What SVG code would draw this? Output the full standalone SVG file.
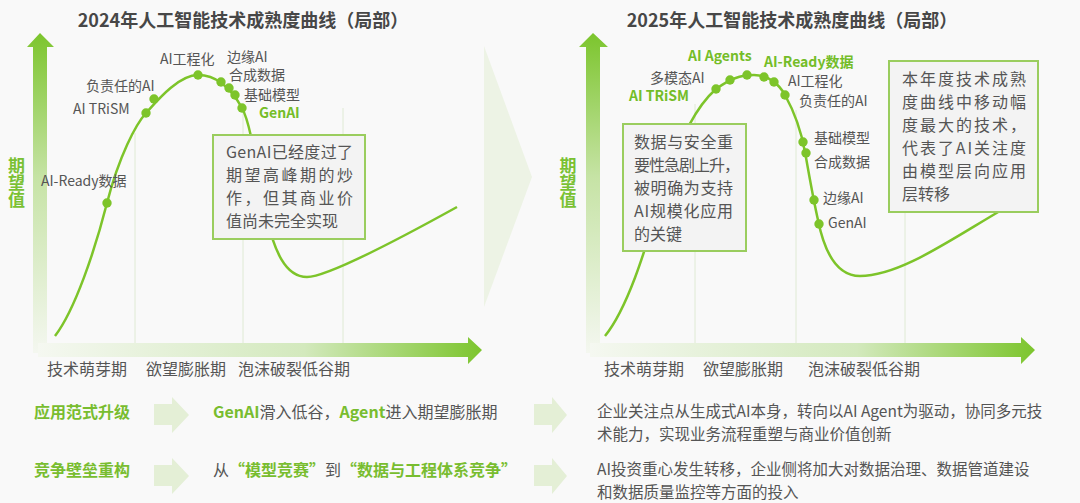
<svg xmlns="http://www.w3.org/2000/svg" width="1080" height="503" viewBox="0 0 1080 503">
<defs>
<linearGradient id="gy" x1="0" y1="0" x2="0" y2="1">
<stop offset="0" stop-color="#7cc52d"/>
<stop offset="0.45" stop-color="#c6e3a5"/>
<stop offset="1" stop-color="#f4f7f0"/>
</linearGradient>
<linearGradient id="gx" x1="0" y1="0" x2="1" y2="0">
<stop offset="0" stop-color="#f5f8f1"/>
<stop offset="0.6" stop-color="#d3e9bd"/>
<stop offset="1" stop-color="#7cc52d"/>
</linearGradient>
<style>
text{font-family:"Noto Sans CJK SC","Noto Sans",sans-serif;fill:#555555;}
.title{font-size:18px;font-weight:bold;fill:#474747;text-anchor:middle;}
.yl{font-size:17px;font-weight:bold;fill:#7ac133;writing-mode:vertical-rl;}
.lab{font-size:14px;}
.glab{font-size:14px;font-weight:bold;fill:#74bd28;}
.ax{font-size:16px;}
.box{fill:#f3f3f3;stroke:#9acd5e;stroke-width:2;}
.bt{font-size:16px;fill:#555555;}
.curve{fill:none;stroke:#7dc42a;stroke-width:2.5;}
.dot{fill:#7dc42a;}
.grid{stroke:#dfead4;stroke-width:1;}
.g{fill:#78bd2f;font-weight:bold;}
.rowh{font-size:16px;font-weight:bold;fill:#78bd2f;}
.rt{font-size:15.5px;}
.barr{fill:#e4efd6;}
</style>
</defs>
<rect x="0" y="0" width="1080" height="503" fill="#f9f9f9"/>

<!-- center chevron -->
<polygon points="484,46 532,177 484,307" fill="#edf3e5"/>

<g id="chart-2024">
<text class="title" x="243" y="27">2024年人工智能技术成熟度曲线（局部）</text>
<g id="axes-2024">
<polygon points="33,47 27,47 40,33 54,47 47,47 47,353 33,353" fill="url(#gy)"/>
<polygon points="38,343 468,343 468,337 482,350 468,364 468,357 38,357" fill="url(#gx)"/>
<text class="yl" x="16.5" y="157">期望值</text>
<line class="grid" x1="135" y1="133" x2="135" y2="343"/>
<line class="grid" x1="243" y1="110" x2="243" y2="343"/>
<line class="grid" x1="343" y1="108" x2="343" y2="343"/>
<text class="ax" x="47" y="375">技术萌芽期</text>
<text class="ax" x="146" y="375">欲望膨胀期</text>
<text class="ax" x="238" y="375">泡沫破裂低谷期</text>
</g>
<path class="curve" d="M55,336 C75,310 95,250 107,203 C119,156 136,124 146,113 C156,102 178,75 198,75 C218,75 232,90 242,108 C252,126 258,180 266,215 C274,250 285,277 307,277 C329,277 410,233 457,207"/>
<g id="dots-2024">
<circle class="dot" cx="107" cy="203" r="4.7"/>
<circle class="dot" cx="146" cy="113" r="4.7"/>
<circle class="dot" cx="154" cy="99" r="4.7"/>
<circle class="dot" cx="198" cy="75" r="4.7"/>
<circle class="dot" cx="221" cy="82" r="4.7"/>
<circle class="dot" cx="229" cy="88" r="4.7"/>
<circle class="dot" cx="235" cy="95" r="4.7"/>
<circle class="dot" cx="242" cy="108" r="4.7"/>
</g>
<g id="labels-2024">
<text class="lab" x="160" y="64">AI工程化</text>
<text class="lab" x="227" y="61.5">边缘AI</text>
<text class="lab" x="229" y="80">合成数据</text>
<text class="lab" x="244" y="100">基础模型</text>
<text class="glab" x="259" y="118">GenAI</text>
<text class="lab" x="86" y="91">负责任的AI</text>
<text class="lab" x="73" y="114">AI TRiSM</text>
<text class="lab" x="41" y="186">AI-Ready数据</text>
</g>
<g id="note-2024">
<rect class="box" x="213" y="135" width="152" height="104"/>
<text class="bt" x="226" y="158" textLength="127" lengthAdjust="spacing">GenAI已经度过了</text>
<text class="bt" x="226" y="181" textLength="127" lengthAdjust="spacing">期望高峰期的炒</text>
<text class="bt" x="226" y="204" textLength="127" lengthAdjust="spacing">作，但其商业价</text>
<text class="bt" x="226" y="227">值尚未完全实现</text>
</g>
</g>

<g id="chart-2025">
<text class="title" x="792" y="27">2025年人工智能技术成熟度曲线（局部）</text>
<g id="axes-2025">
<polygon points="586,47 579,47 593,33 608,47 600,47 600,353 586,353" fill="url(#gy)"/>
<polygon points="590,343 1021,343 1021,337 1035,350 1021,364 1021,357 590,357" fill="url(#gx)"/>
<text class="yl" x="568" y="157">期望值</text>
<line class="grid" x1="695" y1="104" x2="695" y2="343"/>
<line class="grid" x1="796" y1="110" x2="796" y2="343"/>
<line class="grid" x1="905" y1="108" x2="905" y2="343"/>
<text class="ax" x="604" y="375">技术萌芽期</text>
<text class="ax" x="703" y="375">欲望膨胀期</text>
<text class="ax" x="808" y="375">泡沫破裂低谷期</text>
</g>
<path class="curve" d="M605,336 C630,305 648,240 665,185 C676,150 692,110 716,89 C730,79 740,75 754,75 C768,75 779,84 785,95 C795,113 801,130 805,152 C809,174 813,198 818,220 C825,255 838,276 860,276 C900,276 950,240 1005,208"/>
<g id="dots-2025">
<circle class="dot" cx="716" cy="89" r="4.7"/>
<circle class="dot" cx="730" cy="80" r="4.7"/>
<circle class="dot" cx="747" cy="75" r="4.7"/>
<circle class="dot" cx="764" cy="77" r="4.7"/>
<circle class="dot" cx="774" cy="82" r="4.7"/>
<circle class="dot" cx="785" cy="95" r="4.7"/>
<circle class="dot" cx="803" cy="142" r="4.7"/>
<circle class="dot" cx="806" cy="153" r="4.7"/>
<circle class="dot" cx="814" cy="200" r="4.7"/>
<circle class="dot" cx="819" cy="224" r="4.7"/>
</g>
<g id="labels-2025">
<text class="glab" x="688" y="60.5">AI Agents</text>
<text class="glab" x="764" y="67">AI-Ready数据</text>
<text class="lab" x="650" y="82.5">多模态AI</text>
<text class="glab" x="629" y="101">AI TRiSM</text>
<text class="lab" x="788" y="86">AI工程化</text>
<text class="lab" x="799" y="106">负责任的AI</text>
<text class="lab" x="814" y="143">基础模型</text>
<text class="lab" x="814" y="166.5">合成数据</text>
<text class="lab" x="823" y="203">边缘AI</text>
<text class="lab" x="828" y="228">GenAI</text>
</g>
<g id="note-2025-left">
<rect class="box" x="623" y="124" width="123" height="127"/>
<text class="bt" x="634" y="148" textLength="99" lengthAdjust="spacing">数据与安全重</text>
<text class="bt" x="634" y="171" textLength="106" lengthAdjust="spacing">要性急剧上升，</text>
<text class="bt" x="634" y="194" textLength="99" lengthAdjust="spacing">被明确为支持</text>
<text class="bt" x="634" y="217" textLength="99" lengthAdjust="spacing">AI规模化应用</text>
<text class="bt" x="634" y="240">的关键</text>
</g>
<g id="note-2025-right">
<rect class="box" x="889" y="61" width="149" height="151"/>
<text class="bt" x="902" y="84.5" textLength="124" lengthAdjust="spacing">本年度技术成熟</text>
<text class="bt" x="902" y="107.5" textLength="124" lengthAdjust="spacing">度曲线中移动幅</text>
<text class="bt" x="902" y="130.5" textLength="124" lengthAdjust="spacing">度最大的技术，</text>
<text class="bt" x="902" y="153.5" textLength="124" lengthAdjust="spacing">代表了AI关注度</text>
<text class="bt" x="902" y="176.5" textLength="124" lengthAdjust="spacing">由模型层向应用</text>
<text class="bt" x="902" y="199.5">层转移</text>
</g>
</g>

<g id="row-1">
<text class="rowh" x="34" y="418">应用范式升级</text>
<polygon class="barr" points="154,404 172,404 172,397 189,415 172,433 172,425 154,425"/>
<text class="bt" x="213" y="418"><tspan class="g">GenAI</tspan>滑入低谷，<tspan class="g">Agent</tspan>进入期望膨胀期</text>
<polygon class="barr" points="534,404 552,404 552,397 567,415 552,433 552,425 534,425"/>
<text class="rt" x="597" y="417">企业关注点从生成式AI本身，转向以AI Agent为驱动，协同多元技</text>
<text class="rt" x="597" y="440">术能力，实现业务流程重塑与商业价值创新</text>
</g>
<g id="row-2">
<text class="rowh" x="34" y="476">竞争壁垒重构</text>
<polygon class="barr" points="154,465 172,465 172,458 189,476 172,494 172,486 154,486"/>
<text class="bt" x="213" y="476">从<tspan class="g">“模型竞赛”</tspan>到<tspan class="g">“数据与工程体系竞争”</tspan></text>
<polygon class="barr" points="534,465 552,465 552,458 567,476 552,494 552,486 534,486"/>
<text class="rt" x="597" y="475">AI投资重心发生转移，企业侧将加大对数据治理、数据管道建设</text>
<text class="rt" x="597" y="498">和数据质量监控等方面的投入</text>
</g>
</svg>
